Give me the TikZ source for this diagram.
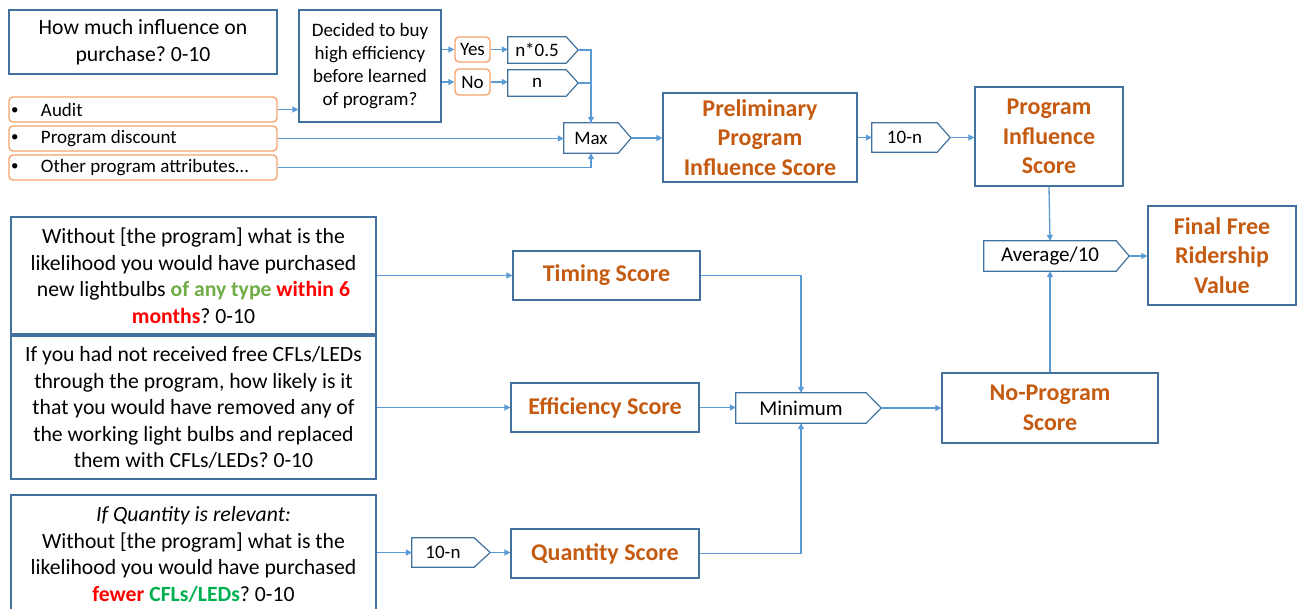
\documentclass[tikz,border=0pt]{standalone}
\usepackage{fontspec}
\setmainfont{Carlito}
\usetikzlibrary{arrows.meta}
\definecolor{boxc}{HTML}{41719C}
\definecolor{linec}{HTML}{5B9BD5}
\definecolor{orb}{HTML}{F4A46C}
\definecolor{ttl}{HTML}{C55A11}
\definecolor{grnA}{HTML}{70AD47}
\definecolor{grnB}{HTML}{00B050}
\definecolor{redc}{HTML}{FF0000}
\frenchspacing
\newcommand{\fzQ}{\fontsize{21.7}{26.5}\selectfont}
\newcommand{\fzS}{\fontsize{19}{22.7}\selectfont}
\newcommand{\fzM}{\fontsize{21}{25}\selectfont}
\newcommand{\fzT}{\fontsize{24}{29.5}\selectfont\bfseries}
\newcommand{\bul}[1]{\makebox[268pt][l]{\hspace*{2pt}\makebox[30pt][l]{\raisebox{2pt}{\fontsize{15}{15}\selectfont•}}#1}}
\newcommand{\pentout}[2]{\draw[pentline] (#1.north west) -- (#1.north east) -- ([xshift=#2]#1.east) coordinate (#1-tip) -- (#1.south east) -- (#1.south west) -- cycle;}
\begin{document}
\begin{tikzpicture}[x=1pt,y=-1pt,
  box/.style={draw=boxc, line width=1.2pt, rectangle, inner sep=0pt, align=center, text=black},
  ttlbox/.style={box, font=\fzT, text=ttl},
  obox/.style={draw=orb, line width=1.4pt, rounded corners=4pt, inner sep=0pt, text=black},
  pent/.style={rectangle, inner sep=0pt, align=center, text=black},
  pentline/.style={draw=boxc, line width=1.2pt, line join=miter},
  conn/.style={draw=linec, line width=1.3pt},
  arr/.style={conn, -{Triangle[length=6pt,width=6pt]}}]
\useasboundingbox (0,0) rectangle (1297,609);

% top-left section
\node[box, minimum width=268, minimum height=64, font=\fzQ] (A) at (143,42) {How much influence on\\purchase? 0-10};
\node[box, minimum width=142, minimum height=112, font=\fzS] (dec) at (370,66) {Decided to buy\\high efficiency\\before learned\\of program?};
\node[obox, minimum width=35, minimum height=25, font=\fzS] (yes) at (472.5,49.5) {Yes};
\node[obox, minimum width=35, minimum height=26, font=\fzS] (no) at (472.5,82) {No};
\node[pent, minimum width=58, minimum height=26, font=\fzS] (nhalf) at (537,50) {n*0.5};
\node[pent, minimum width=58, minimum height=26, font=\fzS] (nn) at (537,83) {n};
\pentout{nhalf}{12}
\pentout{nn}{12}

\node[obox, minimum width=268, minimum height=25, font=\fzS] (audit) at (143,109.5) {\bul{Audit}};
\node[obox, minimum width=268, minimum height=25, font=\fzS] (disc) at (143,138.5) {\bul{Program discount}};
\node[obox, minimum width=268, minimum height=25, font=\fzS] (other) at (143,167.5) {\bul{Other program attributes…}};

\node[pent, minimum width=54, minimum height=30, font=\fzS] (max) at (591,138) {Max};
\pentout{max}{13}

\node[ttlbox, minimum width=194, minimum height=89] (prelim) at (760,137.5) {Preliminary\\Program\\Influence Score};
\node[pent, minimum width=65, minimum height=29, font=\fzS] (tenA) at (904.5,137.5) {10-n};
\pentout{tenA}{13}
\node[ttlbox, minimum width=148, minimum height=99] (pis) at (1049,136.5) {Program\\Influence\\Score};

\node[pent, minimum width=132, minimum height=30, font=\fzM] (avg) at (1050,256) {Average/10};
\pentout{avg}{13}
\node[ttlbox, minimum width=148, minimum height=99] (final) at (1222,255.5) {Final Free\\Ridership\\Value};

% lower section
\node[box, minimum width=365, minimum height=117, font=\fzQ] (q1) at (193.5,275.5) {Without [the program] what is the\\likelihood you would have purchased\\new lightbulbs {\bfseries\color{grnA}of any type} {\bfseries\color{redc}within 6}\\{\bfseries\color{redc}months}? 0-10};
\node[box, minimum width=365, minimum height=143, font=\fzQ] (q2) at (193.5,407.5) {If you had not received free CFLs/LEDs\\through the program, how likely is it\\that you would have removed any of\\the working light bulbs and replaced\\them with CFLs/LEDs? 0-10};
\node[box, minimum width=365, minimum height=119, font=\fzQ] (q3) at (193.5,554.5) {\textit{If Quantity is relevant:}\\Without [the program] what is the\\likelihood you would have purchased\\{\bfseries\color{redc}fewer} {\bfseries\color{grnB}CFLs/LEDs}? 0-10};

\node[ttlbox, minimum width=187, minimum height=49] (timing) at (606.5,275.5) {Timing Score};
\node[ttlbox, minimum width=188, minimum height=49] (eff) at (605,407.5) {Efficiency Score};
\node[ttlbox, minimum width=188, minimum height=49] (quant) at (605,553.5) {Quantity Score};
\node[pent, minimum width=62, minimum height=29, font=\fzS] (tenB) at (443,552.5) {10-n};
\pentout{tenB}{16}
\node[pent, minimum width=130, minimum height=30, font=\fzM] (minn) at (801,408) {Minimum};
\pentout{minn}{15}
\node[ttlbox, minimum width=216, minimum height=70] (nops) at (1050,408) {No-Program\\Score};

% connectors, top
\draw[arr] (dec.east |- yes.west) -- (yes.west);
\draw[arr] (dec.east |- no.west) -- (no.west);
\draw[arr] (yes.east) -- (yes.east -| nhalf.west);
\draw[arr] (no.east) -- (no.east -| nn.west);
\draw[conn] (nn-tip) -| (max.north);
\draw[arr] (nhalf-tip) -| (max.north);
\draw[arr] (audit.east) -- (audit.east -| dec.west);
\draw[arr] (disc.east) -- (disc.east -| max.west);
\draw[arr] (other.east) -| (max.south);
\draw[arr] (max-tip) -- (max-tip -| prelim.west);
\draw[arr] (prelim.east |- tenA.west) -- (tenA.west);
\draw[arr] (tenA-tip) -- (tenA-tip -| pis.west);
\draw[arr] (pis.south) -- (avg.north);
\draw[arr] (avg-tip) -- (avg-tip -| final.west);
\draw[arr] (nops.north) -- (avg.south);

% connectors, bottom
\draw[arr] (q1.east) -- (q1.east -| timing.west);
\draw[arr] (q2.east) -- (q2.east -| eff.west);
\draw[arr] (q3.east |- tenB.west) -- (tenB.west);
\draw[arr] (tenB-tip) -- (tenB-tip -| quant.west);
\draw[arr] (timing.east) -| (minn.north);
\draw[arr] (eff.east) -- (eff.east -| minn.west);
\draw[arr] (quant.east) -| (minn.south);
\draw[arr] (minn-tip) -- (minn-tip -| nops.west);
\end{tikzpicture}
\end{document}
